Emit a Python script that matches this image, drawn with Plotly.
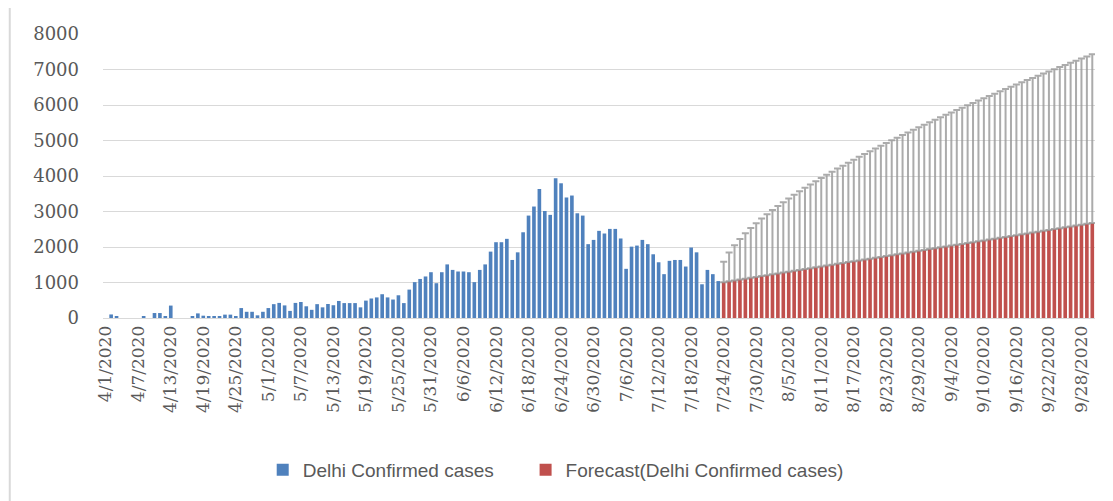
import pandas as pd
import plotly.graph_objects as go

# daily dates shown on the category axis: 4/1/2020 .. 9/30/2020
all_days = pd.date_range("2020-04-01", "2020-09-30", freq="D")
dates = [f"{d.month}/{d.day}/{d.year}" for d in all_days]

# Delhi confirmed cases, 4/1 .. 7/23
april = [0, 100, 45, 0, 0, 0, 0, 50, 0, 140,
         140, 55, 350, 0, 0, 0, 45, 130, 65, 35,
         35, 45, 95, 95, 55, 280, 175, 175, 75, 175]
may = [280, 390, 425, 355, 200, 425, 450, 330, 230, 390,
       300, 395, 360, 480, 420, 420, 420, 300, 490, 550,
       580, 670, 580, 520, 640, 420, 800, 1010, 1100, 1170, 1290]
june = [980, 1290, 1510, 1355, 1310, 1310, 1290, 1010, 1355, 1510,
        1870, 2135, 2135, 2230, 1635, 1850, 2415, 2885, 3140, 3635,
        3015, 2905, 3940, 3795, 3395, 3450, 2950, 2885, 2080, 2200]
july = [2455, 2380, 2510, 2510, 2240, 1385, 2010, 2040, 2200, 2080,
        1795, 1570, 1235, 1610, 1635, 1635, 1450, 1985, 1850, 950,
        1355, 1235, 1040]
actual = april + may + june + july

# Forecast 7/24 .. 9/30 and its upper confidence bound
forecast = [1010, 1035, 1059, 1084, 1108, 1133, 1157, 1182, 1206, 1231,
            1255, 1280, 1304, 1329, 1353, 1378, 1402, 1427, 1451, 1476,
            1500, 1525, 1549, 1574, 1598, 1623, 1647, 1672, 1696, 1721,
            1745, 1770, 1794, 1819, 1843, 1868, 1892, 1917, 1941, 1966,
            1990, 2015, 2039, 2064, 2088, 2113, 2137, 2162, 2186, 2211,
            2235, 2260, 2284, 2309, 2333, 2358, 2382, 2407, 2431, 2456,
            2480, 2505, 2529, 2554, 2578, 2603, 2627, 2652, 2676]
forecast_upper = [1582, 1844, 2050, 2228, 2387, 2534, 2670, 2800, 2922, 3040,
                  3152, 3261, 3367, 3469, 3568, 3666, 3760, 3854, 3944, 4034,
                  4121, 4208, 4292, 4376, 4458, 4540, 4619, 4699, 4776, 4854,
                  4930, 5006, 5080, 5154, 5227, 5300, 5371, 5443, 5513, 5584,
                  5653, 5722, 5790, 5858, 5925, 5992, 6059, 6125, 6190, 6256,
                  6320, 6385, 6448, 6512, 6575, 6638, 6701, 6763, 6825, 6887,
                  6947, 7009, 7069, 7130, 7189, 7250, 7309, 7369, 7428]

actual_dates = dates[:len(actual)]
forecast_dates = dates[len(actual):len(actual) + len(forecast)]
err_plus = [u - f for u, f in zip(forecast_upper, forecast)]

grey = "#595959"
legend_font = dict(family="Liberation Sans", size=19, color=grey)
fig = go.Figure()

fig.add_trace(go.Bar(
    x=actual_dates, y=actual,
    name="Delhi Confirmed cases",
    marker=dict(color="#4f81bd", line=dict(width=0)),
    legend="legend", showlegend=True,
))

fig.add_trace(go.Bar(
    x=forecast_dates, y=forecast,
    name="Forecast(Delhi Confirmed cases)",
    marker=dict(color="#c0504d", line=dict(width=0)),
    error_y=dict(type="data", symmetric=False, array=err_plus,
                 arrayminus=[0] * len(err_plus),
                 color="rgba(150,150,150,0.8)", thickness=2, width=3.5),
    legend="legend2", showlegend=True,
))

# page body adds an 8px offset, so margins are shifted to compensate
fig.update_layout(
    width=1113, height=501,
    margin=dict(l=95, r=26, t=26, b=191),
    paper_bgcolor="white", plot_bgcolor="white",
    barmode="overlay", bargap=0.33,
    showlegend=True,
    font=dict(family="DejaVu Serif", color=grey),
    xaxis=dict(
        type="category", categoryorder="array", categoryarray=dates,
        tickmode="array", tickvals=dates[::6], ticktext=dates[::6],
        tickangle=-90, tickfont=dict(family="DejaVu Serif", size=17, color=grey),
        showgrid=False, showline=True, linecolor="#d9d9d9", linewidth=1,
        ticks="", range=[-0.5, len(dates) - 0.5], automargin=False,
    ),
    yaxis=dict(
        range=[0, 8000], dtick=1000, showgrid=True, gridcolor="#d9d9d9",
        gridwidth=1, zeroline=False, showline=False, ticks="",
        tickfont=dict(family="DejaVu Serif", size=18, color=grey),
        ticklabelstandoff=23, automargin=False,
    ),
    legend=dict(
        orientation="h", x=0.161, xanchor="left", y=-0.535, yanchor="middle",
        font=legend_font, itemwidth=30, visible=True,
    ),
    legend2=dict(
        orientation="h", x=0.426, xanchor="left", y=-0.535, yanchor="middle",
        font=legend_font, itemwidth=30, visible=True,
    ),
    shapes=[dict(type="line", xref="paper", yref="paper",
                 x0=-0.094, x1=-0.094, y0=-0.7, y1=1.1,
                 line=dict(color="#d9d9d9", width=2))],
)

fig.write_html("out.html")
